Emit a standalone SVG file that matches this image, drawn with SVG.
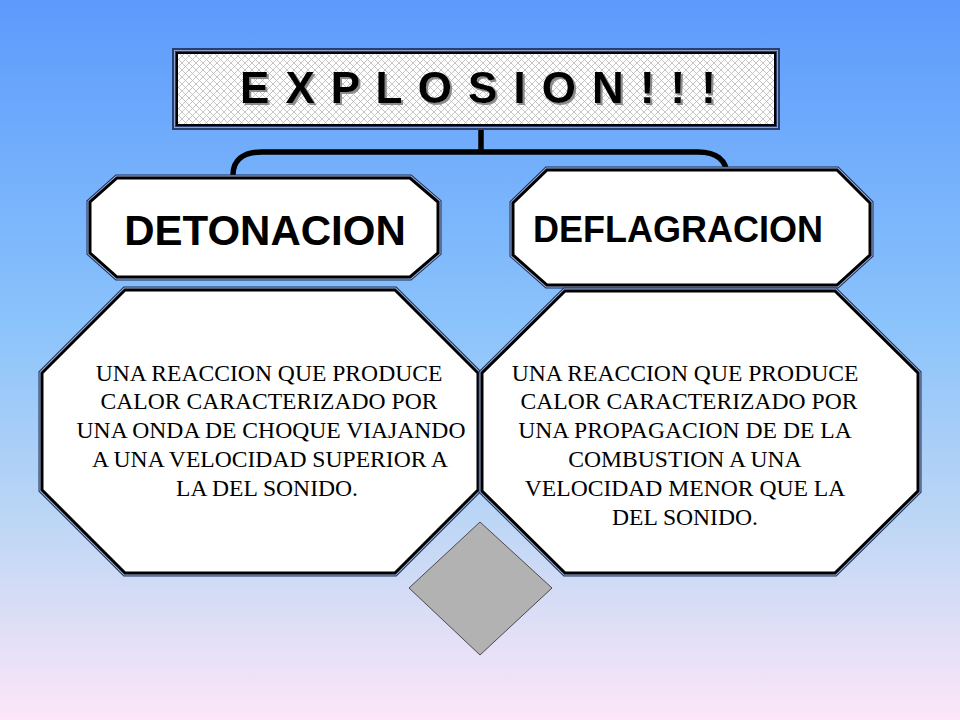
<svg xmlns="http://www.w3.org/2000/svg" xmlns:xlink="http://www.w3.org/1999/xlink" width="960" height="720" viewBox="0 0 960 720">
  <defs>
    <linearGradient id="bg" x1="0" y1="0" x2="0" y2="1">
      <stop offset="0" stop-color="#5c9afc"/>
      <stop offset="0.45" stop-color="#8bc3fb"/>
      <stop offset="0.72" stop-color="#bcd6f5"/>
      <stop offset="1" stop-color="#fde6f8"/>
    </linearGradient>
    <pattern id="hatch" width="7" height="7" patternUnits="userSpaceOnUse">
      <rect width="7" height="7" fill="#ffffff"/>
      <path d="M0,0 L7,7 M7,0 L0,7" stroke="#b8b8b8" stroke-width="0.8"/>
    </pattern>
    <filter id="shadow" x="-5%" y="-20%" width="110%" height="140%">
      <feDropShadow dx="2" dy="2" stdDeviation="0.6" flood-color="#808080" flood-opacity="0.9"/>
    </filter>
    <polygon id="octA" points="117,178 410,178 438,202 438,253 410,277 117,277 90,253 90,202"/>
    <polygon id="octB" points="547,170 837,170 870,203 870,255 837,285 547,285 513,255 513,203"/>
    <polygon id="octC" points="125,290 395,290 478,373 478,490 395,573 125,573 42,490 42,373"/>
    <polygon id="octD" points="565,291 835,291 918,373 918,491 835,573 565,573 482,491 482,373"/>
  </defs>
  <style>
    .b1 { fill: #ffffff; stroke: #1c2c58; stroke-width: 7; stroke-linejoin: miter; }
    .b2 { fill: #ffffff; stroke: #9fb6da; stroke-width: 5; stroke-linejoin: miter; }
    .b3 { fill: #ffffff; stroke: #000000; stroke-width: 3; stroke-linejoin: miter; }
    .head { font-family: "Liberation Sans", Arial, sans-serif; font-weight: bold; fill: #000000; }
    .body { font-family: "Liberation Serif", "Times New Roman", serif; font-size: 23.6px; fill: #000000; text-anchor: middle; }
    .conn { fill: none; stroke: #000000; stroke-width: 5.5; stroke-linecap: butt; }
  </style>

  <rect x="0" y="0" width="960" height="720" fill="url(#bg)"/>

  <g id="connectors">
    <path class="conn" d="M481,129 L481,152"/>
    <path class="conn" d="M233,175 C233,160 243,152 262,152 L698,152 C716,152 727,160 727,176"/>
  </g>

  <g id="title">
    <rect x="172" y="48" width="608" height="82" fill="#2c3e6e"/>
    <rect x="174.5" y="50.5" width="603" height="77" fill="none" stroke="#8aa4d0" stroke-width="1"/>
    <rect x="177" y="53" width="598" height="72" fill="url(#hatch)" stroke="#000000" stroke-width="2"/>
    <text class="head" x="240" y="103" font-size="44" textLength="476" lengthAdjust="spacing" filter="url(#shadow)">E X P L O S I O N ! ! !</text>
  </g>

  <g id="detonacion">
    <use xlink:href="#octA" class="b1"/>
    <use xlink:href="#octA" class="b2"/>
    <use xlink:href="#octA" class="b3"/>
    <text class="head" x="265" y="245" font-size="42" text-anchor="middle">DETONACION</text>
  </g>

  <g id="deflagracion">
    <use xlink:href="#octB" class="b1"/>
    <use xlink:href="#octB" class="b2"/>
    <use xlink:href="#octB" class="b3"/>
    <text class="head" x="533" y="242" font-size="36">DEFLAGRACION</text>
  </g>

  <g id="detonacion-desc">
    <use xlink:href="#octC" class="b1"/>
    <use xlink:href="#octC" class="b2"/>
    <use xlink:href="#octC" class="b3"/>
    <text class="body" x="269" y="381">UNA REACCION QUE PRODUCE</text>
    <text class="body" x="269" y="409">CALOR CARACTERIZADO POR</text>
    <text class="body" x="271" y="438">UNA ONDA DE CHOQUE VIAJANDO</text>
    <text class="body" x="270" y="467">A UNA VELOCIDAD SUPERIOR A</text>
    <text class="body" x="267" y="496">LA DEL SONIDO.</text>
  </g>

  <g id="deflagracion-desc">
    <use xlink:href="#octD" class="b1"/>
    <use xlink:href="#octD" class="b2"/>
    <use xlink:href="#octD" class="b3"/>
    <text class="body" x="685" y="381">UNA REACCION QUE PRODUCE</text>
    <text class="body" x="689" y="409">CALOR CARACTERIZADO POR</text>
    <text class="body" x="685" y="438">UNA PROPAGACION DE DE LA</text>
    <text class="body" x="685" y="467">COMBUSTION A UNA</text>
    <text class="body" x="685" y="496">VELOCIDAD MENOR QUE LA</text>
    <text class="body" x="685" y="525">DEL SONIDO.</text>
  </g>

  <g id="diamond">
    <polygon points="480,522 552,588 480,655 409,588" fill="#b2b2b2" stroke="#4a4a4a" stroke-width="1"/>
  </g>
</svg>
